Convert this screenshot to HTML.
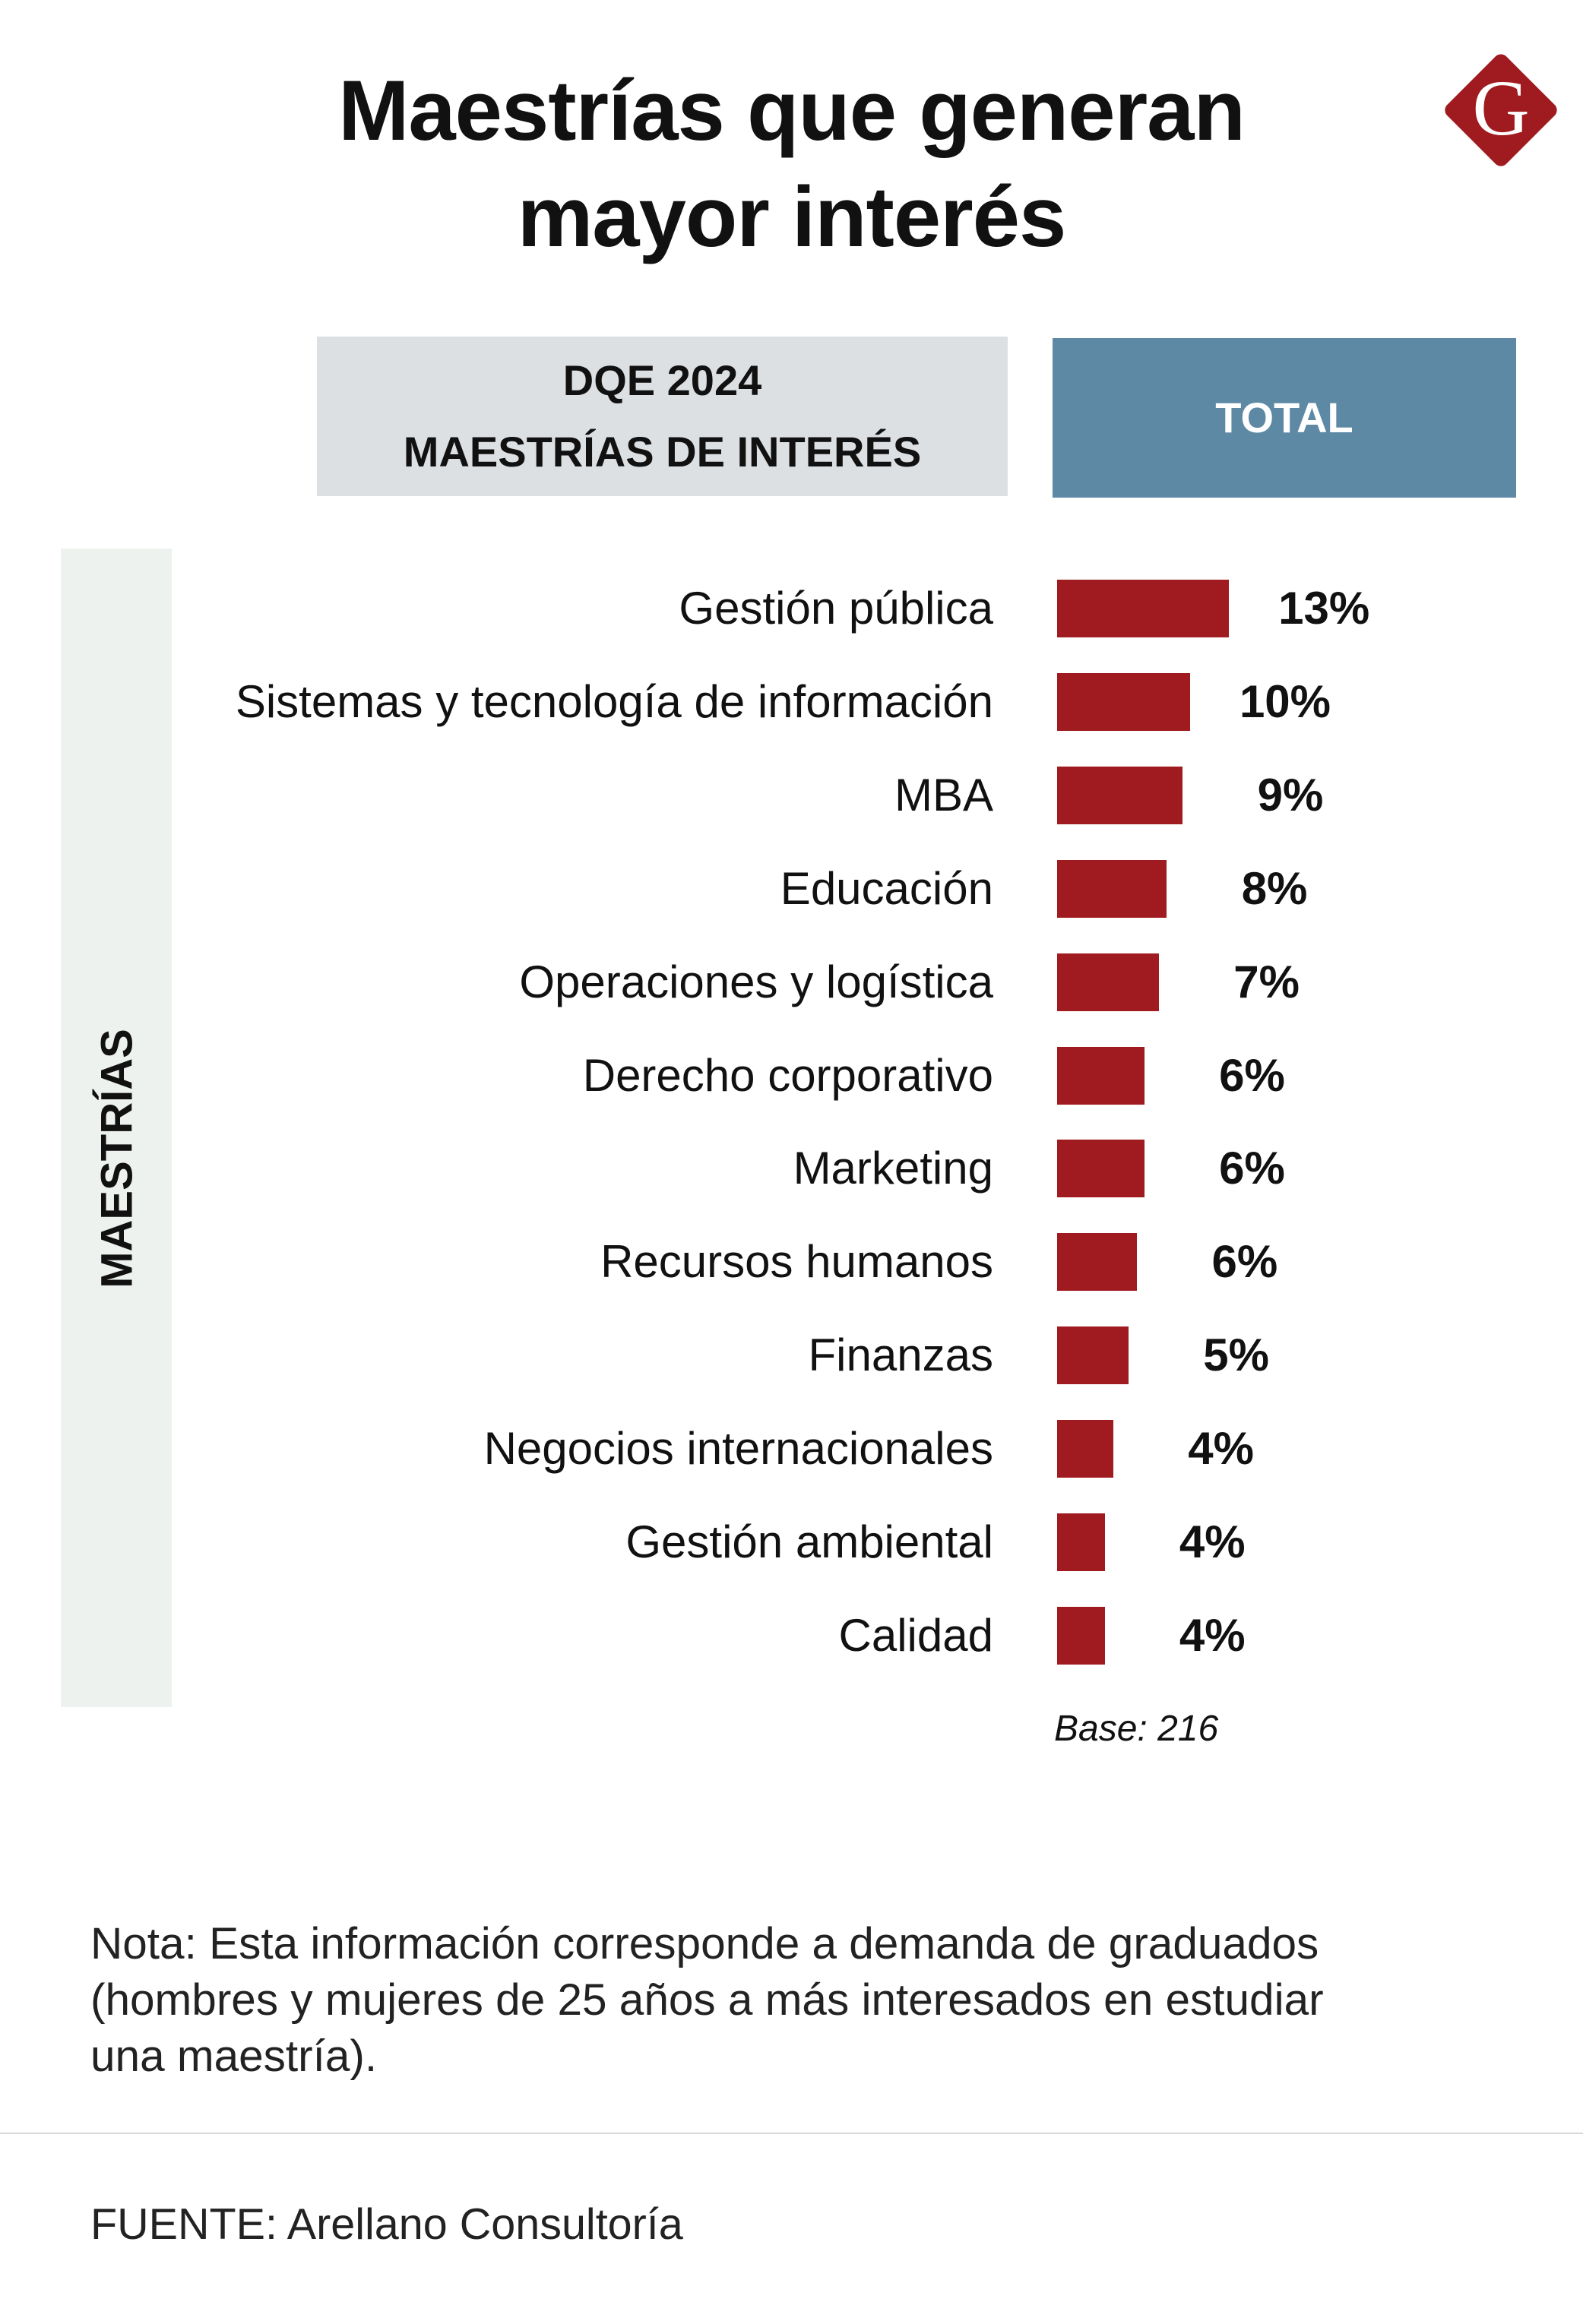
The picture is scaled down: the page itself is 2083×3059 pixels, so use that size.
<!DOCTYPE html>
<html><head><meta charset="utf-8"><style>
body{margin:0;width:2083px;height:3059px;background:#fff;position:relative;overflow:hidden;font-family:"Liberation Sans",sans-serif;color:#111}
.abs{position:absolute}
.title{left:0;width:2083px;text-align:center;font-weight:bold;font-size:112px;line-height:140px;top:76px;letter-spacing:-1px}
.hdr{font-weight:bold;font-size:56px;text-align:center}
.lbl{position:absolute;right:776px;font-size:60px;line-height:76px;white-space:nowrap;text-align:right}
.val{position:absolute;font-size:60px;font-weight:bold;line-height:76px;text-align:right;width:200px}
.bar{position:absolute;background:#a01b1f}
</style></head><body>
<div class="abs title">Maestrías que generan<br>mayor interés</div>
<div class="abs" style="left:1920px;top:90px;width:110px;height:110px;background:#a01b1f;border-radius:10px;transform:rotate(45deg)"></div>
<div class="abs" style="left:1920px;top:88px;width:110px;text-align:center;font-family:'Liberation Serif',serif;font-size:104px;line-height:110px;color:#fff">G</div>
<div class="abs hdr" style="left:417px;top:443px;width:909px;height:210px;background:#dde0e3;line-height:94px;padding-top:11px;box-sizing:border-box">DQE 2024<br>MAESTRÍAS DE INTERÉS</div>
<div class="abs hdr" style="left:1385px;top:445px;width:610px;height:210px;background:#5e89a4;color:#fff;line-height:210px">TOTAL</div>
<div class="abs" style="left:80px;top:722px;width:146px;height:1525px;background:#eef2ee"></div>
<div class="abs" style="left:154px;top:1525px;transform:translate(-50%,-50%) rotate(-90deg);font-weight:bold;font-size:58px;white-space:nowrap">MAESTRÍAS</div>
<div id="chart"></div>
<div class="abs" style="left:1387px;top:2248px;font-style:italic;font-size:48px">Base: 216</div>
<div class="abs" style="left:119px;top:2522px;font-size:58.5px;line-height:74px;color:#222">Nota: Esta información corresponde a demanda de graduados<br>(hombres y mujeres de 25 años a más interesados en estudiar<br>una maestría).</div>
<div class="abs" style="left:0;top:2807px;width:2083px;height:2px;background:#d8d8d8"></div>
<div class="abs" style="left:119px;top:2895px;font-size:57.5px;color:#222">FUENTE: Arellano Consultoría</div>
<script>
const categories=["Gestión pública","Sistemas y tecnología de información","MBA","Educación","Operaciones y logística","Derecho corporativo","Marketing","Recursos humanos","Finanzas","Negocios internacionales","Gestión ambiental","Calidad"];
const values=[13,10.06,9.5,8.3,7.7,6.6,6.6,6.05,5.4,4.25,3.6,3.6];
const valueLabels=["13%","10%","9%","8%","7%","6%","6%","6%","5%","4%","4%","4%"];
const x0=1391,pxPer=17.4,y0=801,step=122.9,bh=76;
const xs=v=>v*pxPer, ys=i=>y0+i*step;
const c=document.getElementById('chart');
categories.forEach((cat,i)=>{
  const l=document.createElement('div');l.className='lbl';l.style.top=(ys(i)-38)+'px';l.textContent=cat;
  
  
  c.appendChild(l);
  const b=document.createElement('div');b.className='bar';
  b.style.left=x0+'px';b.style.top=(ys(i)-bh/2)+'px';b.style.width=xs(values[i])+'px';b.style.height=bh+'px';
  
  
  c.appendChild(b);
  const v=document.createElement('div');v.className='val';
  v.style.left=(x0+xs(values[i])+185-200)+'px';v.style.top=(ys(i)-38)+'px';v.textContent=valueLabels[i];
  
  
  c.appendChild(v);
});
</script>
</body></html>
